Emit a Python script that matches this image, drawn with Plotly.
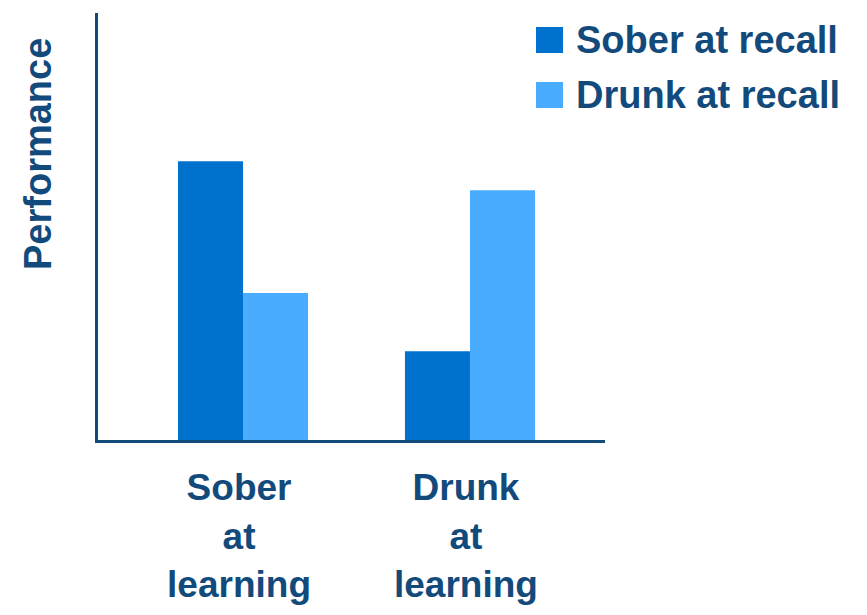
import plotly.graph_objects as go

categories = ["Sober<br>at<br>learning", "Drunk<br>at<br>learning"]
series_names = ["Sober at recall", "Drunk at recall"]
sober_recall = [65.3, 20.8]
drunk_recall = [34.4, 58.5]
colors = ["#0071cd", "#4aacff"]
y_title = "Performance"

navy = "#134a7c"
font_family = "Liberation Sans, Arial, sans-serif"

fig = go.Figure()
for name, vals, col in zip(series_names, [sober_recall, drunk_recall], colors):
    fig.add_trace(go.Bar(x=categories, y=vals, name=name, marker=dict(color=col, line=dict(width=0)),
                         showlegend=False))

# manual legend (large squares)
PW, PH = 507.0, 427.0
for i, (name, col) in enumerate(zip(series_names, colors)):
    yc_px = 40 + i * 55  # centre of entry in window pixels
    yc = 1 - (yc_px - 13) / PH
    fig.add_shape(type="rect", xref="paper", yref="paper",
                  x0=(536 - 98) / PW, x1=(563 - 98) / PW, y0=yc - 13 / PH, y1=yc + 13 / PH,
                  fillcolor=col, line=dict(width=0))
    fig.add_annotation(xref="paper", yref="paper", x=(574 - 98) / PW, y=yc, text=f"<b>{name}</b>",
                       showarrow=False, xanchor="left", yanchor="middle",
                       font=dict(size=38, color=navy, family=font_family))

fig.add_annotation(xref="paper", yref="paper", x=(38 - 98) / PW, y=1 - (154 - 13) / PH,
                   text=f"<b>{y_title}</b>",
                   textangle=-90, showarrow=False, xanchor="center", yanchor="middle",
                   font=dict(size=38, color=navy, family=font_family))

# page body has an 8px margin: figure starts at (8, 8) in the window
fig.update_layout(
    width=859, height=607,
    margin=dict(l=90, r=262, t=5, b=175),
    paper_bgcolor="white", plot_bgcolor="white",
    barmode="group", bargap=0.427, bargroupgap=0,
    font=dict(family=font_family, color=navy),
    xaxis=dict(range=[-0.639, 1.595], showgrid=False, zeroline=False,
               showline=True, linecolor=navy, linewidth=3,
               ticks="outside", ticklen=13, tickcolor="rgba(0,0,0,0)",
               ticklabelshift=-4,
               tickfont=dict(size=37, color=navy, family=font_family),
               tickprefix="<b>", ticksuffix="</b>"),
    yaxis=dict(range=[0, 100], showgrid=False, zeroline=False, showticklabels=False,
               showline=True, linecolor=navy, linewidth=3, ticks=""),
)

fig.write_html("out.html")
